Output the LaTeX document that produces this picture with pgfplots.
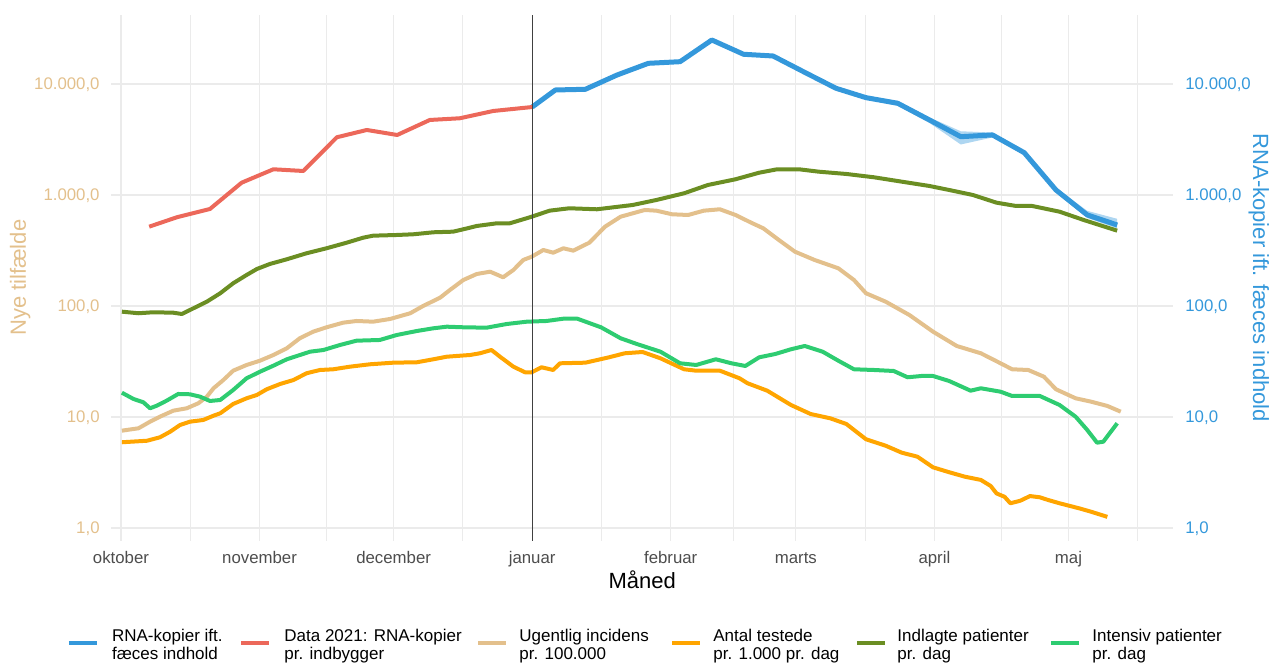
\documentclass[border=0pt]{standalone}
\usepackage{fontspec}
\setmainfont{Liberation Sans}
\usepackage{pgfplots}
\pgfplotsset{compat=1.18}
\definecolor{rnablue}{HTML}{3498DB}
\definecolor{rnared}{HTML}{EC685A}
\definecolor{inctan}{HTML}{E3C08C}
\definecolor{testorange}{HTML}{FFA500}
\definecolor{hospolive}{HTML}{6B8E23}
\definecolor{icugreen}{HTML}{2ECC71}
\definecolor{gridgrey}{HTML}{EBEBEB}
\definecolor{ticktext}{HTML}{4D4D4D}

\begin{document}
\begin{tikzpicture}
\begin{axis}[
    width=531.25pt, height=263.2pt, scale only axis,
    xmin=-2.24, xmax=235.5,
    ymode=log, ymin=0.7638, ymax=42170,
    ytick={1,10,100,1000,10000},
    yticklabels={{1,0},{10,0},{100,0},{1.000,0},{10.000,0}},
    major tick length=0pt, minor tick length=0pt,
    axis line style={draw=none},
    xtick={0,31,61,92,123,151,182,212},
    xticklabels={oktober,november,december,januar,februar,marts,april,maj},
    minor xtick={15.5,46,76.5,107.5,137,166.5,197,227.5},
    xmajorgrids, xminorgrids, ymajorgrids,
    major grid style={gridgrey, line width=0.6pt},
    minor grid style={gridgrey, line width=0.45pt},
    yticklabel pos=left,
    yticklabel style={anchor=base east, xshift=-5.5pt, yshift=-3pt, inner sep=0pt,
      color=inctan, font=\fontsize{8.4}{10}\selectfont},
    xticklabel style={anchor=base, yshift=-11.5pt, inner sep=0pt,
      color=ticktext, font=\fontsize{8.4}{10}\selectfont},
    xlabel={Måned},
    xlabel style={at={(rel axis cs:0.5,0)}, anchor=base, yshift=-24pt, inner sep=0pt,
      font=\fontsize{11}{13}\selectfont},
    every axis plot/.append style={line join=round},
  ]

% usikkerhedsbånd om RNA-kurven
\addplot[fill=rnablue!40, draw=none] coordinates {
  (92,6300) (97.2,9050) (103.9,9150) (111,12300) (118,15700) (125.1,16300)
  (132.2,25500) (139.3,19000) (145.9,18300) (153.4,12900) (160,9450)
  (166.7,7800) (173.8,7050) (180.9,5000) (187.9,3750) (195,3650)
  (202.1,2500) (209.2,1160) (216.2,720) (222.9,610)
  (222.9,500) (216.2,620) (209.2,1060) (202.1,2300) (195,3300)
  (187.9,2850) (180.9,4450) (173.8,6350) (166.7,7250) (160,8850)
  (153.4,12100) (145.9,17300) (139.3,18000) (132.2,24300) (125.1,15500)
  (118,15000) (111,11800) (103.9,8750) (97.2,8650) (92,6100)
};

\addplot[rnablue, line width=2.5pt] coordinates {
  (92,6200) (97.2,8830) (103.9,8955) (111.0,12050) (118.0,15350) (125.1,15880)
  (132.2,24900) (139.3,18520) (145.9,17870) (153.4,12480) (160.0,9140)
  (166.7,7530) (173.8,6700) (180.9,4740) (187.9,3350) (195.0,3475)
  (202.1,2405) (209.2,1109) (216.2,661) (222.9,537)
};

\addplot[rnared, line width=2pt] coordinates {
  (6.3,518.2) (12.5,629.8) (19.9,747.9) (27.0,1291) (34.1,1704) (40.8,1645)
  (48.3,3311) (55.0,3852) (61.8,3472) (69.1,4740) (75.8,4909) (83.3,5712)
  (92,6200)
};

\addplot[inctan, line width=2pt] coordinates {
  (0.2,7.53) (3.9,7.91) (6.5,9.07) (8.7,10.06) (11.7,11.40) (14.7,11.98)
  (17.3,13.29) (19.2,15.24) (20.7,18.14) (22.9,21.54) (25.1,26.13) (28.1,29.41)
  (31.1,32.15) (34.1,36.19) (37.1,41.59) (40.0,51.17) (43.0,58.68) (46.0,64.29)
  (49.7,70.72) (52.7,73.27) (56.4,72.22) (60.2,76.37) (64.7,85.97) (67.6,100)
  (71.4,118.8) (73.6,139.4) (76.6,171.5) (79.6,194.2) (82.6,203.7) (85.5,181.4)
  (87.8,211.1) (90.0,259.7) (91.9,278.0) (94.5,319.5) (96.7,302.1) (99.0,331.1)
  (101.2,315.0) (104.8,371.8) (108.3,518.2) (111.8,637.6) (117.2,732.7)
  (119.8,722.2) (123.3,670.0) (126.9,660.4) (130.4,722.2) (134.0,743.4)
  (137.5,660.4) (141.0,563.0) (143.7,501.2) (147.2,393.1) (150.8,308.4)
  (155.2,259.7) (160.5,218.6) (164.0,171.5) (166.7,130.2) (171.1,109.3)
  (176.4,82.97) (181.7,58.68) (187.0,43.62) (192.4,37.49) (196.8,30.46)
  (199.4,26.90) (203.0,26.51) (206.5,23.07) (209.2,17.77) (213.6,14.74)
  (217.1,13.73) (220.7,12.57) (223.7,11.16)
};

\addplot[testorange, line width=2pt] coordinates {
  (0.2,5.92) (5.8,6.11) (8.7,6.56) (11.0,7.37) (13.2,8.47) (15.4,9.07)
  (18.4,9.40) (20.7,10.27) (22.2,10.80) (25.1,13.10) (28.1,14.74) (30.4,15.79)
  (32.6,17.77) (35.6,19.83) (38.6,21.54) (41.5,24.76) (44.5,26.51) (47.5,26.90)
  (51.2,28.39) (55.7,29.84) (60.9,30.85) (66.2,31.11) (69.9,33.11) (72.9,34.93)
  (78.1,36.19) (80.3,37.49) (82.9,40.14) (84.8,34.93) (87.8,28.39) (90.4,25.28)
  (91.9,25.28) (94.1,28.04) (96.7,26.51) (98.2,30.46) (103.9,30.85)
  (109.2,34.49) (112.7,37.49) (116.7,38.51) (120.7,33.80) (126.0,26.90)
  (128.7,26.13) (134.0,26.13) (138.4,22.32) (140.2,20.12) (144.6,17.26)
  (149.9,12.83) (154.3,10.64) (158.7,9.73) (162.3,8.65) (166.7,6.30)
  (171.1,5.51) (174.7,4.77) (178.2,4.39) (181.7,3.52) (185.3,3.18)
  (188.8,2.90) (192.4,2.71) (194.6,2.39) (195.9,2.05) (197.7,1.91)
  (199.0,1.67) (201.2,1.76) (203.4,1.94) (205.6,1.89) (207.4,1.79)
  (210.0,1.67) (214.5,1.50) (217.1,1.40) (220.7,1.26)
};

\addplot[hospolive, line width=2pt] coordinates {
  (0.2,88.9) (3.9,86.0) (7.2,87.8) (11.7,87.0) (13.6,84.7) (16.2,95.3)
  (19.2,109.3) (22.2,130.2) (25.1,160.2) (28.1,190.2) (30.4,215.4) (33.3,239.0)
  (37.1,263.5) (41.5,298.4) (46.0,331.1) (50.5,371.8) (54.2,412.5) (56.4,429.9)
  (61.7,436.1) (65.4,442.5) (69.9,461.3) (74.3,467.1) (76.6,490.9) (79.6,525.7)
  (84.1,555.9) (87.0,555.9) (91.5,629.8) (95.9,722.2) (100.3,759.0)
  (106.5,743.4) (114.5,812.6) (119.8,901.5) (126.0,1036) (131.3,1230)
  (137.5,1385) (142.8,1588) (146.8,1704) (151.7,1704) (156.1,1622)
  (162.3,1546) (168.5,1443) (174.7,1318) (180.9,1205) (185.3,1109)
  (190.6,1000) (195.9,852.4) (200.3,796) (203.9,796) (210.0,707.3)
  (215.4,595.4) (222.9,476.9)
};

\addplot[icugreen, line width=2pt] coordinates {
  (0.2,16.55) (2.8,14.53) (5.0,13.57) (6.5,11.98) (8.0,12.64) (10.2,14.02)
  (12.8,16.12) (15.4,16.02) (17.7,15.24) (19.9,13.94) (22.2,14.23) (25.1,17.51)
  (28.1,22.32) (31.1,25.59) (34.1,28.99) (37.1,33.11) (42.3,38.75) (45.3,40.14)
  (49.0,44.53) (52.7,48.69) (57.9,49.40) (61.7,54.79) (66.2,59.53) (69.9,62.97)
  (72.9,65.09) (76.6,64.29) (81.8,63.76) (86.3,68.82) (90.8,72.22) (95.2,73.27)
  (99.0,76.84) (102.1,76.84) (107.4,64.29) (111.8,51.17) (115.4,45.48)
  (120.7,38.75) (125.1,30.46) (128.7,29.41) (133.1,33.11) (136.6,30.46)
  (139.7,28.81) (142.8,34.49) (146.4,36.95) (149.9,40.74) (153.0,43.62)
  (157.0,38.75) (160.5,32.15) (164.0,26.90) (168.5,26.51) (172.9,25.97)
  (176.0,22.79) (179.1,23.41) (181.7,23.41) (185.3,21.10) (190.1,17.26)
  (192.4,18.14) (196.8,16.90) (199.4,15.46) (205.6,15.46) (210.0,12.83)
  (213.6,10.06) (216.2,7.64) (218.4,5.87) (219.8,5.99) (222.9,8.78)
};

% skillelinje ved årsskiftet
\addplot[black!75, line width=0.6pt] coordinates {(92,0.7638) (92,42170)};
\end{axis}

% højre akse med samme log-skala
\begin{axis}[
    width=531.25pt, height=263.2pt, scale only axis,
    xmin=-2.24, xmax=235.5,
    ymode=log, ymin=0.7638, ymax=42170,
    ytick={1,10,100,1000,10000},
    yticklabels={{1,0},{10,0},{100,0},{1.000,0},{10.000,0}},
    major tick length=0pt, minor tick length=0pt,
    axis line style={draw=none},
    xtick=\empty,
    yticklabel pos=right,
    yticklabel style={anchor=base west, xshift=5.75pt, yshift=-3pt, inner sep=0pt,
      color=rnablue, font=\fontsize{8.4}{10}\selectfont},
  ]
\addplot[draw=none] coordinates {(0,1)};
\end{axis}

\node[rotate=90, anchor=base, inner sep=0pt, color=inctan, font=\fontsize{11}{13}\selectfont]
  at (-42.5pt,131.6pt) {Nye tilfælde};
\node[rotate=-90, anchor=base, inner sep=0pt, color=rnablue, font=\fontsize{11}{13}\selectfont]
  at (571pt,131.6pt) {RNA-kopier ift. fæces indhold};

% forklaring under figuren (base = sidste linjes grundlinje)
\begin{scope}[every node/.style={anchor=base west, inner sep=0pt, align=left,
    font=\fontsize{8.5}{8.8}\selectfont}]
\foreach \kx/\tx/\col/\txt in {
    -21/0.35/rnablue/{RNA-kopier ift.\\fæces indhold},
    65/86.5/rnared/{Data 2021: RNA-kopier\\pr. indbygger},
    183.5/204/inctan/{Ugentlig incidens\\pr. 100.000},
    280.5/301/testorange/{Antal testede\\pr. 1.000 pr. dag},
    373/393/hospolive/{Indlagte patienter\\pr. dag},
    470/490.5/icugreen/{Intensiv patienter\\pr. dag}} {
  \draw[\col, line width=2pt] (\kx pt,-51.15pt) -- ++(14pt,0pt);
  \node at (\tx pt,-59.15pt) {\txt};
}
\end{scope}

\pgfresetboundingbox
\path[use as bounding box] (-55.5pt,-61.5pt) rectangle (580pt,270.5pt);
\end{tikzpicture}
\end{document}
